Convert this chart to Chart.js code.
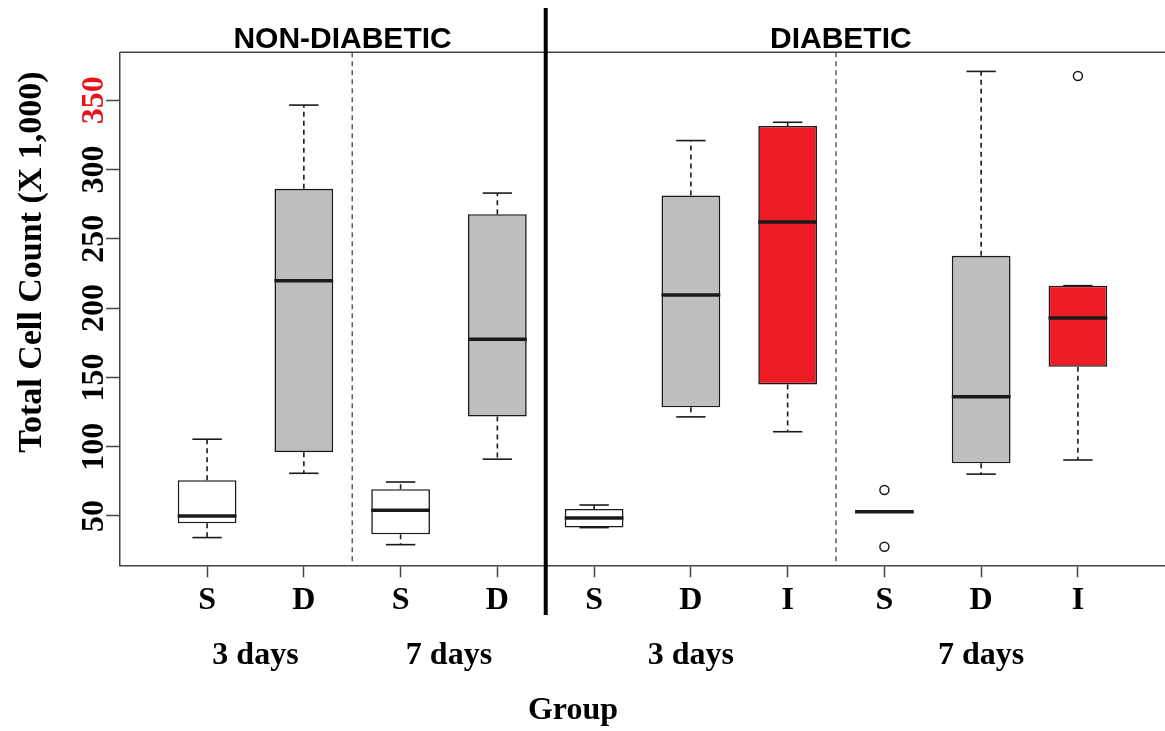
<!DOCTYPE html>
<html>
<head>
<meta charset="utf-8">
<title>Total Cell Count by Group</title>
<script src="https://cdn.jsdelivr.net/npm/chart.js@4.4.1/dist/chart.umd.min.js"></script>
<style>
  html, body { margin: 0; padding: 0; background: #ffffff; }
  #wrap { width: 1165px; height: 731px; }
  canvas { display: block; }
</style>
</head>
<body>
<div id="wrap"><canvas id="cellChart" width="1165" height="731"></canvas></div>
<script>
// Box positions along the group axis and the treatment code shown under each box
const positions   = [1, 2, 3, 4, 5, 6, 7, 8, 9, 10];
const groupCodes  = ['S', 'D', 'S', 'D', 'S', 'D', 'I', 'S', 'D', 'I'];

// Five-number summaries (total cell count, x 1,000)
const whiskerLow  = [34.4,  80.8, 29.3,  91.0, 41.6, 121.5, 110.8, 53.1,  80.2,  90.4];
const q1          = [44.7,  96.0, 36.8, 121.7, 41.6, 128.4, 144.9, 53.1,  88.0, 157.6];
const median      = [50.0, 219.8, 54.1, 177.5, 48.6, 209.5, 262.2, 53.1, 136.1, 192.8];
const q3          = [75.8, 286.1, 69.3, 267.8, 55.1, 281.2, 331.4, 53.1, 237.7, 216.2];
const whiskerHigh = [105.4, 346.5, 74.5, 283.0, 57.9, 320.9, 334.1, 53.1, 370.8, 216.2];
const outlierValues = [[], [], [], [], [], [], [], [68.8, 27.8], [], [367.5]];

// Axis ticks and grouping labels
const yTicks       = [50, 100, 150, 200, 250, 300, 350];
const panelTitles  = ['NON-DIABETIC', 'DIABETIC'];
const panelCentres = [2.4, 7.55];
const dayLabels    = ['3 days', '7 days', '3 days', '7 days'];
const dayCentres   = [1.5, 3.5, 6, 9];
const timeDividers = [2.5, 7.5];
const panelDivider = 4.5;

const fillFor = { S: '#ffffff', D: '#bebebe', I: '#ed1c24' };
const ink = '#1a1a1a';
const serif = '"Liberation Serif", "Times New Roman", serif';
const sans = '"Liberation Sans", Arial, sans-serif';

const boxData = positions.map((p, i) => ({ x: p, y: [q1[i], q3[i]] }));
const outlierData = [];
positions.forEach((p, i) => outlierValues[i].forEach(v => outlierData.push({ x: p, y: v })));

function stroke(ctx, x1, y1, x2, y2) {
  ctx.beginPath();
  ctx.moveTo(x1, y1);
  ctx.lineTo(x2, y2);
  ctx.stroke();
}

// Whiskers, staples and medians drawn on top of the box bars
const boxParts = {
  id: 'boxParts',
  afterDatasetsDraw(chart) {
    const { ctx } = chart;
    const y = chart.scales.y;
    const bars = chart.getDatasetMeta(0).data;
    ctx.save();
    ctx.strokeStyle = ink;
    bars.forEach((bar, i) => {
      const cx = bar.x, w = bar.width;
      const yq1 = y.getPixelForValue(q1[i]);
      const yq3 = y.getPixelForValue(q3[i]);
      const ylo = y.getPixelForValue(whiskerLow[i]);
      const yhi = y.getPixelForValue(whiskerHigh[i]);
      const ymed = y.getPixelForValue(median[i]);
      ctx.lineWidth = 1.6;
      ctx.setLineDash([5, 4]);
      if (whiskerHigh[i] > q3[i]) stroke(ctx, cx, yq3, cx, yhi);
      if (whiskerLow[i] < q1[i]) stroke(ctx, cx, yq1, cx, ylo);
      ctx.setLineDash([]);
      if (q3[i] > q1[i]) {
        stroke(ctx, cx - w / 4, yhi, cx + w / 4, yhi);
        stroke(ctx, cx - w / 4, ylo, cx + w / 4, ylo);
      }
      ctx.lineWidth = 3.5;
      ctx.lineCap = 'butt';
      stroke(ctx, cx - w / 2, ymed, cx + w / 2, ymed);
    });
    ctx.restore();
  },
  afterDraw(chart) {
    const { ctx, chartArea: a } = chart;
    const x = chart.scales.x, y = chart.scales.y;
    ctx.save();

    // frame: top edge
    ctx.strokeStyle = '#444';
    ctx.lineWidth = 1.5;
    stroke(ctx, a.left, a.top, a.right, a.top);

    // dashed dividers between time points
    ctx.lineWidth = 1.3;
    ctx.setLineDash([5, 4]);
    timeDividers.forEach(v => {
      const px = x.getPixelForValue(v);
      stroke(ctx, px, a.top, px, a.bottom);
    });
    ctx.setLineDash([]);

    // solid divider between the two panels
    ctx.strokeStyle = '#000';
    ctx.lineWidth = 4;
    const pd = x.getPixelForValue(panelDivider);
    stroke(ctx, pd, 8, pd, 615);

    ctx.fillStyle = '#000';
    // panel titles
    ctx.font = 'bold 30px ' + sans;
    ctx.textAlign = 'center';
    ctx.textBaseline = 'alphabetic';
    panelTitles.forEach((t, i) => ctx.fillText(t, x.getPixelForValue(panelCentres[i]), 48));

    // y tick labels, set along the axis
    ctx.font = 'bold 32px ' + serif;
    ctx.textBaseline = 'middle';
    yTicks.forEach(v => {
      ctx.save();
      ctx.translate(95, y.getPixelForValue(v));
      ctx.rotate(-Math.PI / 2);
      ctx.fillStyle = v === 350 ? '#e8141c' : '#000';
      ctx.fillText(String(v), 0, 0);
      ctx.restore();
    });

    // y axis title
    ctx.save();
    ctx.font = 'bold 34px ' + serif;
    ctx.translate(32, 262);
    ctx.rotate(-Math.PI / 2);
    ctx.fillText('Total Cell Count (X 1,000)', 0, 0);
    ctx.restore();

    // treatment codes under each box
    positions.forEach((p, i) => ctx.fillText(groupCodes[i], x.getPixelForValue(p), 601));

    // time point labels
    dayLabels.forEach((t, i) => ctx.fillText(t, x.getPixelForValue(dayCentres[i]), 656));

    // x axis title
    ctx.fillText('Group', 573, 711);
    ctx.restore();
  }
};

new Chart(document.getElementById('cellChart'), {
  type: 'bar',
  data: {
    datasets: [
      {
        type: 'bar',
        data: boxData,
        backgroundColor: groupCodes.map(g => fillFor[g]),
        borderColor: ink,
        borderWidth: 1.6,
        borderSkipped: false,
        barPercentage: 0.607,
        categoryPercentage: 1,
        grouped: false
      },
      {
        type: 'scatter',
        data: outlierData,
        pointStyle: 'circle',
        pointRadius: 4.5,
        pointBorderWidth: 1.5,
        pointBackgroundColor: '#ffffff',
        pointBorderColor: ink
      }
    ]
  },
  options: {
    responsive: false,
    animation: false,
    events: [],
    layout: { autoPadding: false, padding: { top: 52.3, left: 0, right: 0, bottom: 0 } },
    plugins: { legend: { display: false }, tooltip: { enabled: false } },
    scales: {
      x: {
        type: 'linear',
        min: 0.1,
        max: 10.9,
        offset: false,
        afterBuildTicks: s => { s.ticks = positions.map(v => ({ value: v })); },
        afterFit: s => { s.height = 731 - 565.3; },
        ticks: { display: false },
        grid: { offset: false, drawOnChartArea: false, drawTicks: true, tickLength: 12, tickColor: '#444', tickWidth: 1.5 },
        border: { display: true, color: '#444', width: 1.5 }
      },
      y: {
        type: 'linear',
        min: 14.4,
        max: 384.6,
        afterBuildTicks: s => { s.ticks = yTicks.map(v => ({ value: v })); },
        afterFit: s => { s.width = 120; },
        ticks: { display: false },
        grid: { drawOnChartArea: false, drawTicks: true, tickLength: 14, tickColor: '#444', tickWidth: 1.5 },
        border: { display: true, color: '#444', width: 1.5 }
      }
    }
  },
  plugins: [boxParts]
});
</script>
</body>
</html>
